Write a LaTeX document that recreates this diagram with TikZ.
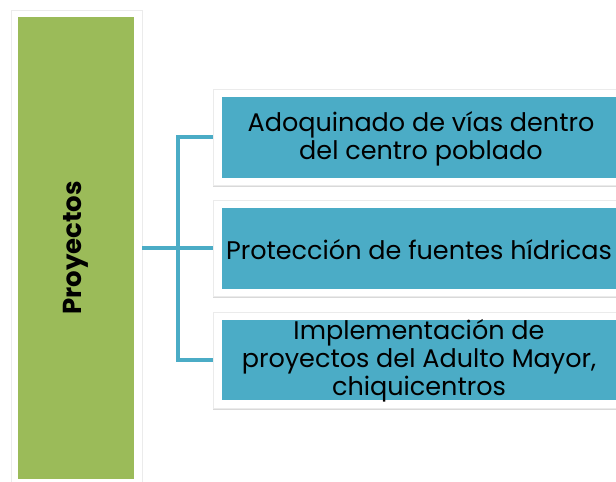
\documentclass[tikz,border=0pt]{standalone}
\usepackage{fontspec}
\setmainfont{Poppins}
\usepackage{tikz}
\usetikzlibrary{shadows}

\definecolor{leaf}{HTML}{9BBB59}
\definecolor{sea}{HTML}{4BACC6}

\begin{document}
\begin{tikzpicture}[x=1pt, y=-1pt,
    frame/.style={rectangle, fill=white, draw=black!8, line width=0.6pt,
        drop shadow={opacity=0.3, shadow xshift=0pt, shadow yshift=-2pt}},
    item/.style={rectangle, fill=sea, minimum width=408pt, minimum height=81pt, inner sep=0pt},
    caption/.style={align=center, inner sep=0pt, font=\fontsize{25.5}{28}\selectfont},
    link/.style={draw=sea, line width=4pt}]
    \useasboundingbox (0,0) rectangle (616,482);
    \clip (0,0) rectangle (616,482);
    % left column
    \node[frame, minimum width=131pt, minimum height=476pt] (pframe) at (76.5,248) {};
    \node[fill=leaf, minimum width=116pt, minimum height=462pt, inner sep=0pt] (proj) at (76,248) {};
    \node[rotate=90, font=\bfseries\fontsize{26}{30}\selectfont] at (proj.center) {Proyectos};
    % items
    \node[frame, minimum width=420pt, minimum height=96pt] (f1) at (423,137) {};
    \node[item] (b1) at (426,137.5) {};
    \node[caption] at (421,139) {Adoquinado de vías dentro\\del centro poblado};
    \node[frame, minimum width=420pt, minimum height=96pt] (f2) at (423,248) {};
    \node[item] (b2) at (426,248.5) {};
    \node[caption] at (419,250) {Protección de fuentes hídricas};
    \node[frame, minimum width=420pt, minimum height=96pt] (f3) at (423,360) {};
    \node[item, minimum height=80pt] (b3) at (426,360) {};
    \node[caption] at (419,361) {Implementación de\\proyectos del Adulto Mayor,\\chiquicentros};
    % connectors
    \coordinate (split) at (178,248);
    \draw[link] (pframe.east) -- (f2.west);
    \draw[link] (f1.west) -| (split) |- (f3.west);
\end{tikzpicture}
\end{document}
